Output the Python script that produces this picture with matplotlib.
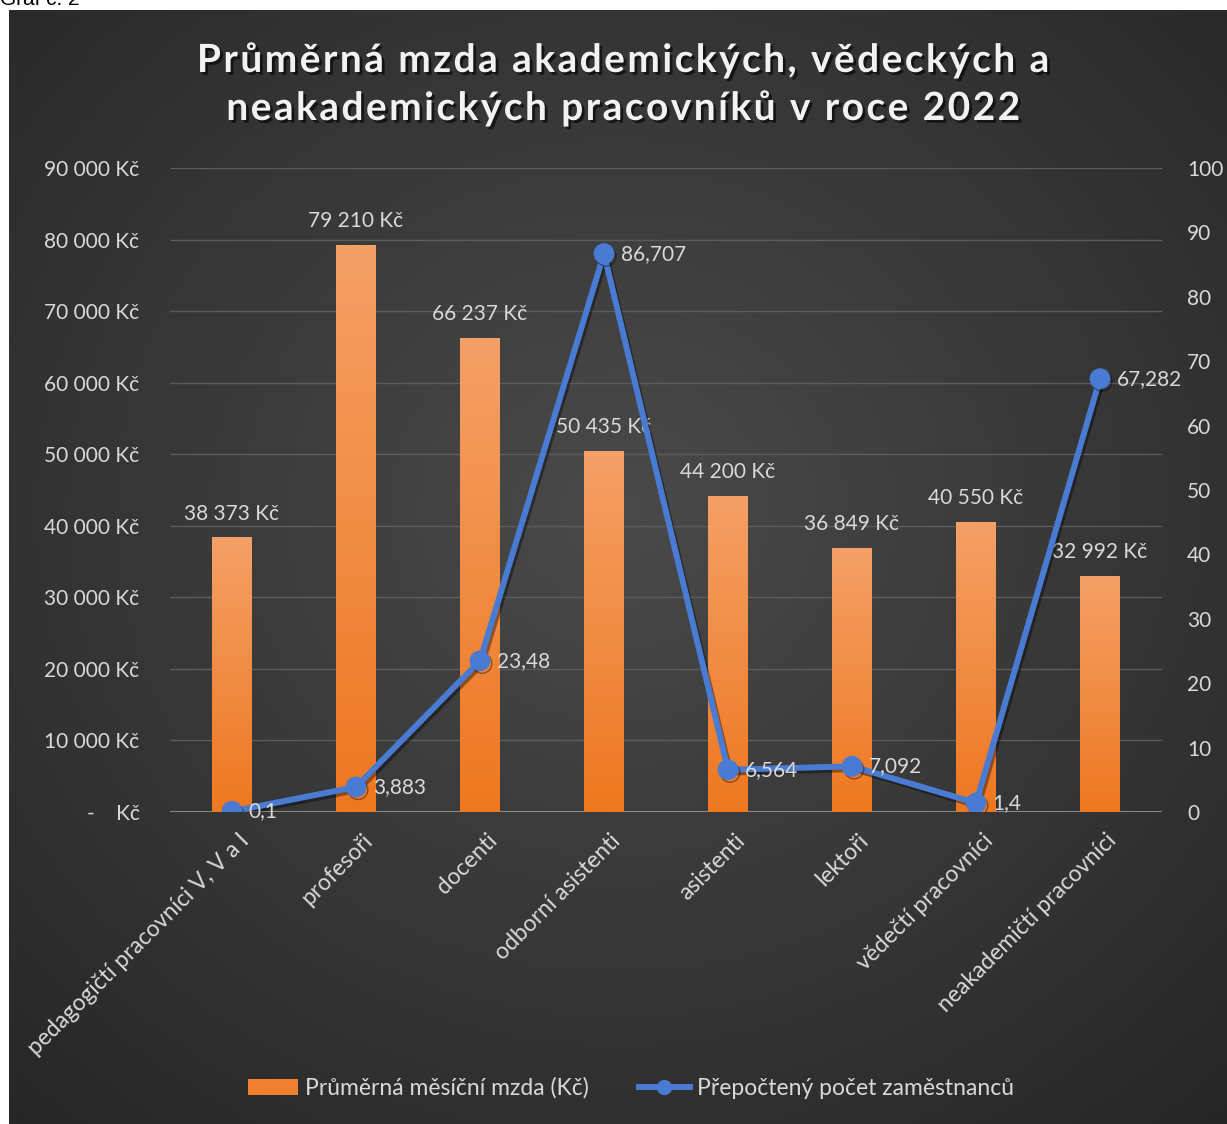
#!/usr/bin/env python3
# -*- coding: utf-8 -*-
"""Průměrná mzda vs. přepočtený počet zaměstnanců (2022) - tmavý styl jako v Excelu."""

import numpy as np
import matplotlib
matplotlib.use("Agg")
import matplotlib.pyplot as plt
from matplotlib import patheffects as pe
from matplotlib.colors import LinearSegmentedColormap
from matplotlib.patches import Patch
from matplotlib.lines import Line2D
from matplotlib.ticker import FuncFormatter, MultipleLocator
from matplotlib.transforms import ScaledTranslation

# --- data ---
kategorie = [
    "pedagogičtí pracovníci V, V a I",
    "profesoři",
    "docenti",
    "odborní asistenti",
    "asistenti",
    "lektoři",
    "vědečtí pracovníci",
    "neakademičtí pracovníci",
]
mzda = [38373, 79210, 66237, 50435, 44200, 36849, 40550, 32992]
pocet = [0.1, 3.883, 23.48, 86.707, 6.564, 7.092, 1.4, 67.282]
pocet_popisky = ["0,1", "3,883", "23,48", "86,707", "6,564", "7,092", "1,4", "67,282"]

nazev = ["Průměrná mzda akademických, vědeckých a",
         "neakademických pracovníků v roce 2022"]
legenda = ["Průměrná měsíční mzda (Kč)", "Přepočtený počet zaměstnanců"]

plt.rcParams["font.family"] = ["Lato", "DejaVu Sans"]
TXT = "#D9D9D9"
BLUE = "#4A7BD2"
ORANGE = "#F08030"


def kc(v, pos=None):
    if v == 0:
        return "-    Kč"
    return f"{int(round(v)):,}".replace(",", " ") + " Kč"


def prolozit(s):
    # Excel má v nadpisu rozšířené mezery mezi písmeny
    return "\u200a".join(s)


fig = plt.figure(figsize=(12.27, 11.24), dpi=100)
fig.patch.set_facecolor("white")

# tmavé pozadí s radiálním přechodem
bg = fig.add_axes([9 / 1227, 0, 1 - 9 / 1227, 1 - 10 / 1124])
bg.set_axis_off()
yy, xx = np.mgrid[0:1:300j, 0:1:300j]
r = np.sqrt(((xx - 0.5) / 0.75) ** 2 + ((yy - 0.55) / 0.75) ** 2)
cm_bg = LinearSegmentedColormap.from_list("bg", ["#4a4a4a", "#262626"])
bg.imshow(np.clip(r, 0, 1), extent=[0, 1, 0, 1], origin="lower", aspect="auto",
          cmap=cm_bg, vmin=0, vmax=1)

fig.text(0.0, 1 - 5 / 1124, "Graf č. 2", fontsize=15, color="black",
         va="baseline", ha="left", family=["Liberation Sans", "DejaVu Sans"])

ax = fig.add_axes([170 / 1227, 1 - 812 / 1124, 992 / 1227, 644 / 1124])
ax.patch.set_alpha(0)
x = np.arange(len(kategorie))

# sloupce s přechodem
bars = ax.bar(x, mzda, width=0.32, facecolor="none", edgecolor="none", zorder=2)
grad = np.linspace(0, 1, 256).reshape(-1, 1)
cm_bar = LinearSegmentedColormap.from_list("o", ["#EE7820", "#F4A066"])
for b in bars:
    x0, w, h = b.get_x(), b.get_width(), b.get_height()
    im = ax.imshow(grad, extent=[x0, x0 + w, 0, h], origin="lower", cmap=cm_bar,
                   aspect="auto", zorder=2)
    im.set_clip_path(b)

for xi, v in zip(x, mzda):
    ax.annotate(kc(v), (xi, v), xytext=(0, 10), textcoords="offset points",
                ha="center", va="bottom", color=TXT, fontsize=15, zorder=5)

ax.set_xlim(-0.5, len(kategorie) - 0.5)
ax.set_ylim(0, 90000)
ax.yaxis.set_major_locator(MultipleLocator(10000))
ax.yaxis.set_major_formatter(FuncFormatter(kc))
ax.grid(axis="y", color="#5c5c5c", linewidth=1, zorder=0)
ax.set_axisbelow(True)
ax.axhline(0, color="#9a9a9a", linewidth=1.2, zorder=1)
for s in ax.spines.values():
    s.set_visible(False)
ax.tick_params(axis="y", length=0, pad=22, labelsize=15, labelcolor=TXT)
ax.set_xticks(x)
ax.set_xticklabels(kategorie, rotation=45, ha="right", va="top",
                   rotation_mode="anchor", fontsize=16.5, color=TXT)
ax.tick_params(axis="x", length=0, pad=13)
posun = ScaledTranslation(6 / 100, 0, fig.dpi_scale_trans)
for lab in ax.get_xticklabels():
    lab.set_transform(lab.get_transform() + posun)

# čára na vedlejší ose
ax2 = ax.twinx()
ax2.plot(x, pocet, color=BLUE, linewidth=4.3, marker="o", markersize=14,
         zorder=4, path_effects=[pe.SimpleLineShadow(offset=(1.5, -2), alpha=0.4), pe.Normal()])
for xi, v, t in zip(x, pocet, pocet_popisky):
    ax2.annotate(t, (xi, v), xytext=(12, 0), textcoords="offset points",
                 ha="left", va="center", color=TXT, fontsize=15, zorder=6)
ax2.set_ylim(0, 100)
ax2.yaxis.set_major_locator(MultipleLocator(10))
for s in ax2.spines.values():
    s.set_visible(False)
ax2.tick_params(axis="y", length=0, pad=18, labelsize=15, labelcolor=TXT)

stin = [pe.withSimplePatchShadow(offset=(2, -2), shadow_rgbFace="black", alpha=0.6)]
for yline, radek in zip([1 - 60 / 1124, 1 - 108 / 1124], nazev):
    fig.text(0.507, yline, prolozit(radek), ha="center", va="center", fontsize=28,
             fontweight="bold", color="#F2F2F2", path_effects=stin)

handles = [Patch(facecolor=ORANGE, edgecolor="none"),
           Line2D([], [], color=BLUE, linewidth=4.3, marker="o", markersize=10)]
fig.legend(handles, legenda, loc="center", bbox_to_anchor=(0.514, 1 - 1088 / 1124),
           ncol=2, frameon=False, fontsize=16.5, labelcolor=TXT, handlelength=2.2,
           handletextpad=0.3, columnspacing=2.2)

fig.savefig("out.png", dpi=100)
